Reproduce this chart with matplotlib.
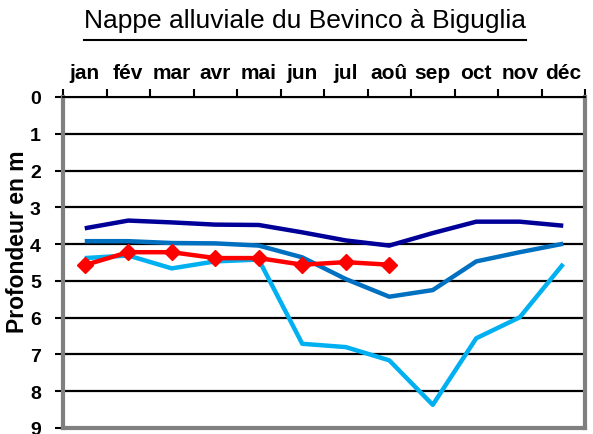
import matplotlib.pyplot as plt
from matplotlib.lines import Line2D

plt.rcParams['font.family'] = ['Liberation Sans', 'DejaVu Sans']

months = ["jan", "fév", "mar", "avr", "mai", "jun", "jul", "aoû", "sep", "oct", "nov", "déc"]

# profondeur de la nappe (m), une série par année
navy_depth = [3.57, 3.36, 3.41, 3.47, 3.48, 3.68, 3.90, 4.04, 3.70, 3.39, 3.39, 3.50]
mid_depth = [3.92, 3.92, 3.97, 3.98, 4.04, 4.36, 4.95, 5.43, 5.25, 4.47, 4.22, 3.99]
light_depth = [4.38, 4.31, 4.66, 4.47, 4.42, 6.71, 6.80, 7.16, 8.37, 6.56, 5.99, 4.54]
red_depth = [4.57, 4.22, 4.22, 4.38, 4.38, 4.56, 4.49, 4.56]

title = "Nappe alluviale du Bevinco à Biguglia"
ylab = "Profondeur en m"

fig = plt.figure(figsize=(5.93, 4.35), dpi=100)
ax = fig.add_axes([63/593, 1 - 429/435, (585 - 63)/593, (429 - 98)/435])

x = list(range(len(months)))
ax.plot(x, navy_depth, color="#000099", lw=3.2, solid_capstyle="butt", zorder=3)
ax.plot(x, mid_depth, color="#0070C0", lw=3.2, solid_capstyle="butt", zorder=3)
ax.plot(x, light_depth, color="#00B0F0", lw=3.2, solid_capstyle="butt", zorder=3)
ax.plot(x[:len(red_depth)], red_depth, color="#FF0000", lw=3.2, marker="D",
        markersize=8, zorder=4)

ax.set_xlim(-0.5, 11.5)
ax.set_ylim(9, 0)
ax.set_yticks(range(10))
ax.yaxis.grid(True, color="black", lw=1.6)
ax.set_axisbelow(True)

# mois en haut, graduations entre les mois
ax.xaxis.tick_top()
ax.set_xticks(x)
ax.set_xticklabels(months, fontsize=15, fontweight="bold")
ax.set_xticks([i - 0.5 for i in range(13)], minor=True)
ax.tick_params(axis="x", which="major", length=0, pad=11)
ax.tick_params(axis="x", which="minor", length=6, width=1.5, color="black", direction="out")
ax.tick_params(axis="y", length=6, width=1.5, color="black", pad=10,
               labelsize=14)
for lab in ax.get_yticklabels():
    lab.set_fontweight("bold")

ax.set_ylabel(ylab, fontsize=16.5, fontweight="bold")
ax.yaxis.set_label_coords(-0.066, 0.565)

for side in ["left", "right", "bottom"]:
    ax.spines[side].set_color("#808080")
    ax.spines[side].set_linewidth(3)
ax.spines["top"].set_color("black")
ax.spines["top"].set_linewidth(1.5)

t = fig.text(305/593, 1 - 21/435, title, fontsize=19, ha="center", va="center")
fig.canvas.draw()
bb = t.get_window_extent().transformed(fig.transFigure.inverted())
uy = 1 - 41/435
fig.add_artist(Line2D([bb.x0, bb.x1], [uy, uy], color="black", lw=1.5,
                      transform=fig.transFigure))

fig.savefig("out.png", dpi=100)
